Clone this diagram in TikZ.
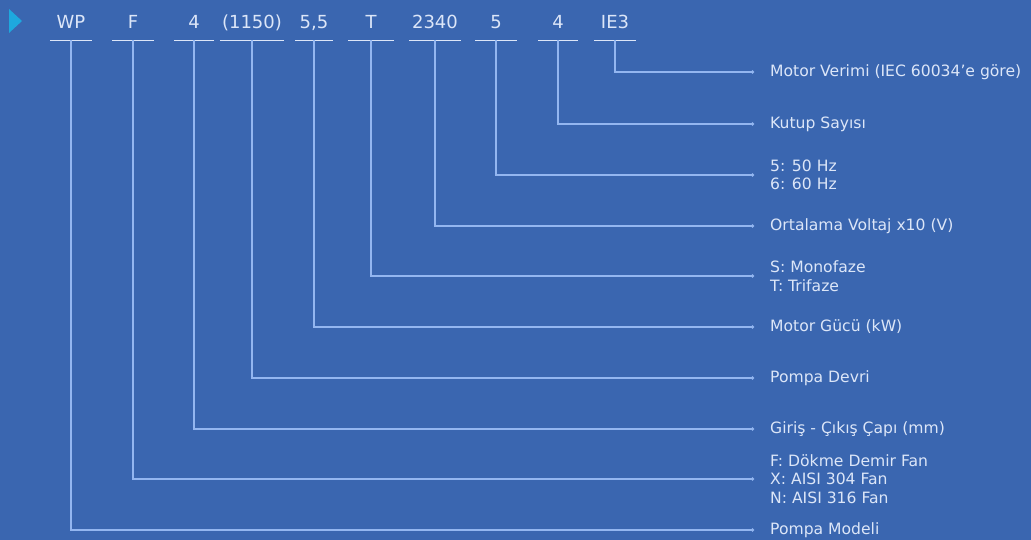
\documentclass[tikz,border=0pt]{standalone}
\usepackage{fontspec}
\setmainfont{DejaVu Sans}
\usetikzlibrary{arrows.meta}
\definecolor{bg}{HTML}{3A66B0}
\definecolor{ln}{HTML}{93B6F0}
\definecolor{txt}{HTML}{DCE6F8}
\definecolor{cy}{HTML}{1EA8DE}
\begin{document}
\begin{tikzpicture}[x=1pt,y=-1pt,
  code/.style={text=txt,font=\fontsize{18}{20}\selectfont,inner sep=0pt,anchor=base},
  desc/.style={text=txt,font=\fontsize{15.6}{18.5}\selectfont,inner sep=0pt,anchor=west,align=left},
  bar/.style={draw=txt,line width=1.3pt},
  conn/.style={draw=ln,line width=1.4pt,-{Circle[length=3pt]},shorten >=16pt}]
\fill[bg] (0,0) rectangle (1031,540);
\useasboundingbox (0,0) rectangle (1031,540);
\fill[cy] (9,9) -- (22,21) -- (9,33) -- cycle;
% top codes: name, center x, half width
\foreach \n/\x/\w/\t in {a/71/21/WP, b/133/21/F, c/194/20/4, d/252/32/(1150), e/314/19/{5,5}, f/371/23/T, g/435/26/2340, h/496/21/5, i/558/20/4, j/615/21/IE3}{
  \node[code] (t\n) at (\x,28.5) {\t};
  \draw[bar] (\x-\w,40.5) -- (\x+\w,40.5);
  \coordinate (b\n) at (\x,40.5);
}
% descriptions
\node[desc] (rj) at (770,72) {Motor Verimi (IEC 60034'e göre)};
\node[desc] (ri) at (770,124) {Kutup Sayısı};
\node[desc] (rh) at (770,175) {5: 50 Hz\\6: 60 Hz};
\node[desc] (rg) at (770,226) {Ortalama Voltaj x10 (V)};
\node[desc] (rf) at (770,276) {S: Monofaze\\T: Trifaze};
\node[desc] (re) at (770,327) {Motor Gücü (kW)};
\node[desc] (rd) at (770,378) {Pompa Devri};
\node[desc] (rc) at (770,429) {Giriş - Çıkış Çapı (mm)};
\node[desc] (rb) at (770,479) {F: Dökme Demir Fan\\X: AISI 304 Fan\\N: AISI 316 Fan};
\node[desc] (ra) at (770,530) {Pompa Modeli};
\foreach \n in {a,b,c,d,e,f,g,h,i,j}{
  \draw[conn] (b\n) |- (r\n.west);
}
\end{tikzpicture}
\end{document}
